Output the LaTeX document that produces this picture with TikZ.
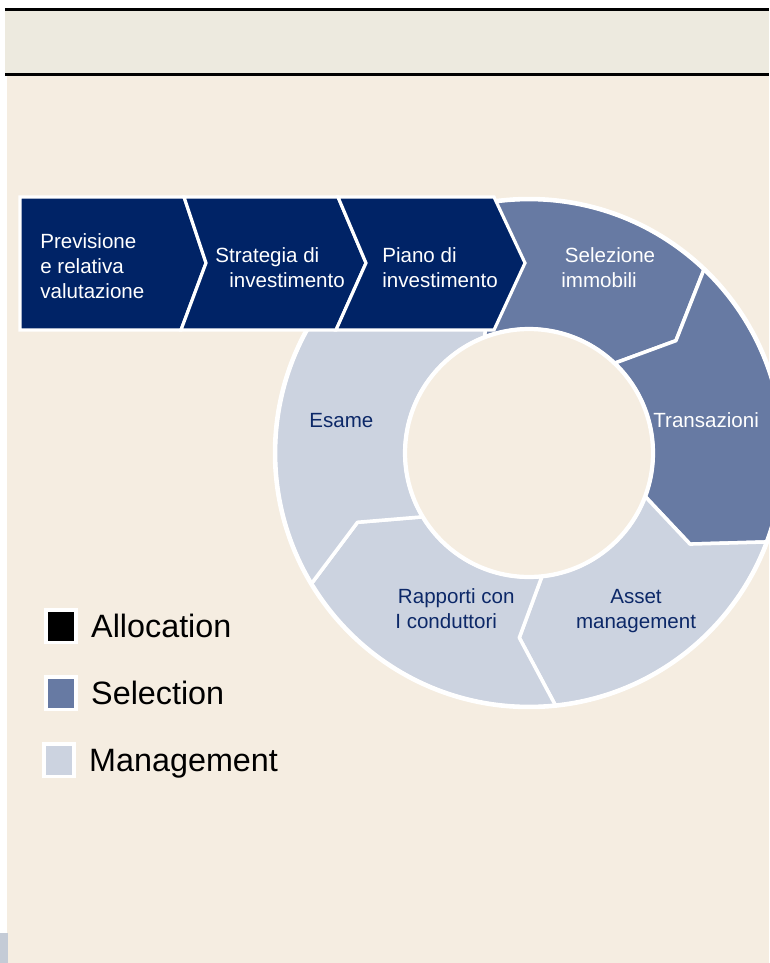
\documentclass[tikz,border=0pt]{standalone}
\usepackage{fontspec}
\setmainfont{Liberation Sans}
\usetikzlibrary{positioning}

\definecolor{allocnavy}{RGB}{0,35,102}
\definecolor{selectblue}{RGB}{103,122,163}
\definecolor{managelight}{RGB}{204,211,224}
\definecolor{creambg}{RGB}{245,237,225}
\definecolor{bandbg}{RGB}{237,234,223}
\definecolor{labelnavy}{RGB}{12,40,104}

\newcommand{\ringout}{5.08cm}
\newcommand{\ringin}{2.48cm}
\newcommand{\ringmid}{3.7cm}
% one piece of the ring: ccw angle, cw angle, fill colour
\newcommand{\ringpart}[3]{%
	\filldraw[fill=#3, ringline] (#1:\ringout) arc[start angle=#1, end angle=#2, radius=\ringout]
	-- ({#2-9}:\ringmid) -- (#2:\ringin) arc[start angle=#2, end angle=#1, radius=\ringin]
	-- ({#1-9}:\ringmid) -- cycle;}

\begin{document}
\begin{tikzpicture}[x=0.02cm, y=-0.02cm]
	\tikzstyle{ringline}=[draw=white, line width=2pt, line join=round]
	\tikzstyle{barline}=[draw=white, line width=1.8pt, line join=miter, fill=allocnavy]
	\tikzstyle{steplabel}=[inner sep=0pt, anchor=base west, align=left, font=\fontsize{11.7}{14}\selectfont]
	\tikzstyle{legendbox}=[draw=white, line width=2pt, minimum width=17pt, minimum height=18.5pt, inner sep=0pt]
	\tikzstyle{legendtext}=[inner sep=0pt, text height=13.1pt, text depth=0pt, font=\fontsize{18.4}{20}\selectfont]

	\useasboundingbox (0,0) rectangle (769,963);
	\fill[white] (0,0) rectangle (769,963);
	\fill[creambg] (7,74) rectangle (769,963);
	\fill[managelight!90!gray] (0,933) rectangle (8,963);
	\fill[bandbg] (5,10) rectangle (769,74);
	\draw[line width=1.2pt] (5,9.5) -- (769,9.5);
	\draw[line width=1.2pt] (5,74.5) -- (769,74.5);

	% ring
	\begin{scope}[shift={(529,453)}]
		\ringpart{111}{46.4}{selectblue}
		\ringpart{46.4}{-20.5}{selectblue}
		\ringpart{-20.5}{-84}{managelight}
		\ringpart{-84}{-149}{managelight}
		\ringpart{211}{111}{managelight}
		\draw[white, line width=2.6pt] (0,0) circle[radius=\ringout];
		\filldraw[fill=creambg, draw=white, line width=2.4pt] (0,0) circle[radius=\ringin];
	\end{scope}

	% chevron bar
	\path[barline] (20,197) -- (184,197) -- (206,263) -- (181,330) -- (20,330) -- cycle;
	\path[barline] (184,197) -- (338,197) -- (366,263) -- (336,330) -- (181,330) -- (206,263) -- cycle;
	\path[barline] (338,197) -- (494,197) -- (525,263) -- (494,330) -- (336,330) -- (366,263) -- cycle;

	\node[steplabel, white] (prev) at (40,298) {Previsione\\e relativa\\valutazione};
	\node[steplabel, white] (strat) at (215,287) {Strategia di\\\hspace*{8pt}investimento};
	\node[steplabel, white] (piano) at (382,287) {Piano di\\investimento};
	\node[steplabel, white] (selez) at (561,287) {\hspace*{2pt}Selezione\\immobili};
	\node[steplabel, white] (trans) at (653,427) {Transazioni};
	\node[steplabel, labelnavy] (esame) at (309,427) {Esame};
	\node[steplabel, labelnavy] (rapp) at (395,628) {\hspace*{1.5pt}Rapporti con\\I conduttori};
	\node[steplabel, labelnavy, anchor=base, align=center] (asset) at (636,628) {Asset\\management};

	% legend
	\node[legendbox, fill=black] (allocbox) at (61,626) {};
	\node[legendbox, fill=selectblue] (selbox) at (61,693) {};
	\node[legendbox, fill=managelight] (mgmtbox) at (59,760) {};
	\node[legendtext, right=7.5pt of allocbox] (alloc) {Allocation};
	\node[legendtext, right=7.5pt of selbox] (sel) {Selection};
	\node[legendtext, right=7.5pt of mgmtbox] (mgmt) {Management};
\end{tikzpicture}
\end{document}
